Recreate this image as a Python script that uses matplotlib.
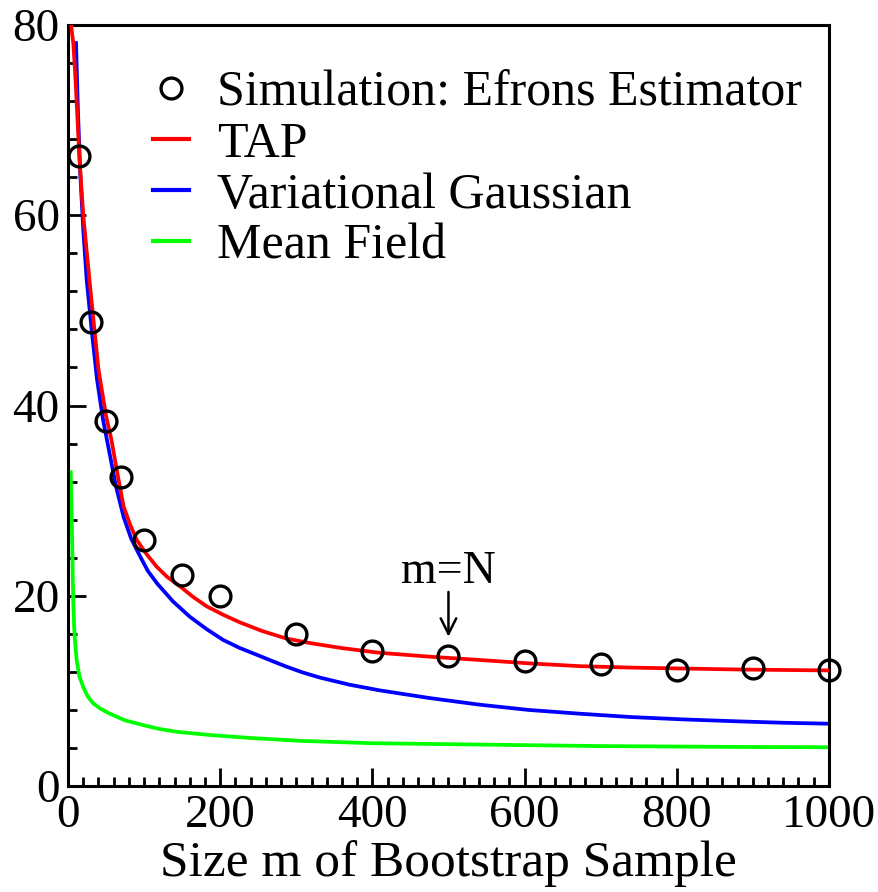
import matplotlib
import matplotlib.pyplot as plt
from matplotlib.ticker import MultipleLocator

matplotlib.rcParams.update(
    {"font.family": "serif", "font.serif": ["Liberation Serif"], "mathtext.fontset": "stix"}
)

# simulation points (Efron estimator)
sim_m = [15, 30, 50, 70, 100, 150, 200, 300, 400, 500, 600, 700, 800, 900, 1000]
sim_err = [66.2, 48.8, 38.4, 32.5, 25.9, 22.2, 20.0, 16.0, 14.2, 13.7, 13.1, 12.8, 12.2, 12.4, 12.2]

# theory curves, read at a set of sample sizes
tap_m = [4, 7, 10, 15, 20, 29, 40, 50, 57, 65, 73, 81, 90, 103, 116, 130, 147, 164, 182, 204, 226, 255,
         287, 320, 360, 410, 475, 541, 605, 673, 740, 810, 880, 940, 1000]
tap_err = [80.0, 78.0, 74.0, 66.0, 60.0, 52.5, 43.8, 38.9, 36.4, 32.8, 29.4, 27.6, 25.9, 24.4, 23.1,
           22.0, 21.0, 19.9, 18.9, 18.0, 17.2, 16.3, 15.5, 15.0, 14.5, 14.0, 13.6, 13.25, 12.9, 12.6,
           12.45, 12.35, 12.25, 12.2, 12.15]

vg_m = [10.5, 13, 16, 20, 24.5, 31, 38, 46, 55, 63, 73, 83, 95, 105, 117, 138, 160, 182, 204, 226, 248,
        268, 287, 308, 331, 370, 410, 475, 541, 605, 673, 740, 810, 880, 940, 1000]
vg_err = [78.1, 71.0, 64.5, 58.5, 53.2, 48.0, 42.8, 38.5, 34.8, 31.5, 28.3, 26.0, 24.1, 22.6, 21.3, 19.4,
          17.8, 16.5, 15.35, 14.5, 13.8, 13.15, 12.55, 11.95, 11.4, 10.65, 10.05, 9.25, 8.55, 8.0, 7.6,
          7.25, 7.0, 6.8, 6.65, 6.55]

mf_m = [3.5, 4.5, 5.5, 6.2, 7, 8, 9.2, 11.4, 15, 20, 26, 33, 43, 55, 75, 99, 120, 143, 187, 240, 305, 400,
        500, 600, 699, 800, 900, 1000]
mf_err = [33.0, 29.5, 25.5, 22.0, 19.0, 16.8, 15.2, 13.2, 11.5, 10.4, 9.4, 8.7, 8.1, 7.6, 6.9, 6.4, 6.0,
          5.7, 5.36, 5.05, 4.75, 4.5, 4.4, 4.3, 4.2, 4.15, 4.1, 4.08]

fig = plt.figure(figsize=(8.79, 8.92), dpi=100)
ax = fig.add_axes([0.0774, 0.1188, 0.8656, 0.8532])

lw = 2.7
ax.plot(sim_m, sim_err, "o", ms=15, mfc="none", mec="black", mew=2.4,
        clip_on=False, zorder=5, label="Simulation: Efrons Estimator")
ax.plot(tap_m, tap_err, color="#ff0000", lw=lw, label="TAP", zorder=3)
ax.plot(vg_m, vg_err, color="#0000ff", lw=lw, label="Variational Gaussian", zorder=2)
ax.plot(mf_m, mf_err, color="#00ff00", lw=lw, label="Mean Field", zorder=2)

# m = N marker
ax.text(500, 20.3, "m=N", ha="center", va="bottom", fontsize=33)
ax.annotate("", xy=(500, 15.7), xytext=(500, 20.4),
            arrowprops=dict(arrowstyle="->", color="black", lw=1.8,
                            shrinkA=0, shrinkB=0, mutation_scale=28))

ax.set_xlim(0, 1000)
ax.set_ylim(0, 80)
ax.xaxis.set_major_locator(MultipleLocator(200))
ax.xaxis.set_minor_locator(MultipleLocator(20))
ax.yaxis.set_major_locator(MultipleLocator(20))
ax.yaxis.set_minor_locator(MultipleLocator(4))
ax.tick_params(which="both", direction="in", top=False, right=False,
               labelsize=34, width=2.0, pad=6)
ax.tick_params(which="major", length=13)
ax.tick_params(which="minor", length=6.5)
for sp in ax.spines.values():
    sp.set_linewidth(2.2)

ax.set_xlabel("Size m of Bootstrap Sample", fontsize=37, labelpad=2)

leg = ax.legend(loc="upper left", bbox_to_anchor=(0.086, 0.967), frameon=False,
                fontsize=36, handlelength=0.72, handletextpad=0.56,
                labelspacing=0.09, borderaxespad=0)
for h in leg.legend_handles:
    h.set_linewidth(3.0)

fig.savefig("out.png", dpi=100)
